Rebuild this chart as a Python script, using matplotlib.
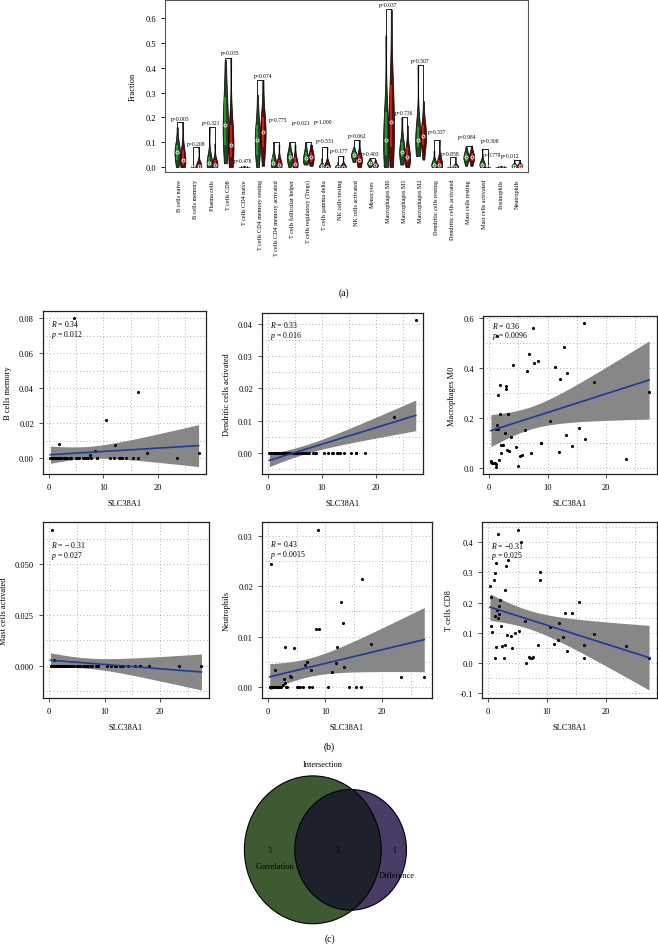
import numpy as np
import matplotlib
matplotlib.use('Agg')
import matplotlib.pyplot as plt
from matplotlib.patches import Circle
from matplotlib.ticker import MultipleLocator, FormatStrFormatter

plt.rcParams['font.family'] = ['Liberation Serif', 'DejaVu Serif']
plt.rcParams['mathtext.fontset'] = 'custom'
plt.rcParams['mathtext.rm'] = 'Liberation Serif'
plt.rcParams['mathtext.it'] = 'Liberation Serif:italic'

# ---------------- data: (a) violin panel ----------------
cell_types = ["B cells naive", "B cells memory", "Plasma cells", "T cells CD8",
              "T cells CD4 naive", "T cells CD4 memory resting",
              "T cells CD4 memory activated", "T cells follicular helper",
              "T cells regulatory (Tregs)", "T cells gamma delta", "NK cells resting",
              "NK cells activated", "Monocytes", "Macrophages M0", "Macrophages M1",
              "Macrophages M2", "Dendritic cells resting", "Dendritic cells activated",
              "Mast cells resting", "Mast cells activated", "Eosinophils", "Neutrophils"]
p_values = [0.003, 0.208, 0.321, 0.035, 0.476, 0.074, 0.775, 0.021, 1.000, 0.531, 0.177,
            0.062, 0.403, 0.037, 0.736, 0.507, 0.337, 0.858, 0.984, 0.308, 0.779, 0.012]
# min, q1, median, q3, max of each group
low_frac = [[0.0, 0.03, 0.06, 0.09, 0.16], [0.0, 0.0, 0.001, 0.003, 0.008],
            [0.0, 0.005, 0.015, 0.04, 0.16], [0.015, 0.09, 0.17, 0.28, 0.43],
            [0.0, 0.0, 0.0, 0.001, 0.003], [0.0, 0.05, 0.11, 0.17, 0.29],
            [0.0, 0.005, 0.015, 0.04, 0.10], [0.0, 0.02, 0.04, 0.06, 0.10],
            [0.01, 0.02, 0.035, 0.06, 0.10], [0.0, 0.0, 0.003, 0.01, 0.035],
            [0.0, 0.0, 0.002, 0.006, 0.02], [0.02, 0.035, 0.048, 0.06, 0.08],
            [0.0, 0.008, 0.015, 0.022, 0.035], [0.0, 0.05, 0.11, 0.22, 0.53],
            [0.01, 0.04, 0.062, 0.10, 0.20], [0.045, 0.08, 0.11, 0.16, 0.41],
            [0.0, 0.003, 0.01, 0.025, 0.065], [0.0, 0.0, 0.0, 0.001, 0.01],
            [0.005, 0.025, 0.039, 0.055, 0.08], [0.0, 0.005, 0.01, 0.02, 0.073],
            [0.0, 0.0, 0.0, 0.001, 0.003], [0.0, 0.002, 0.005, 0.01, 0.03]]
high_frac = [[0.0, 0.01, 0.03, 0.07, 0.18], [0.0, 0.001, 0.004, 0.01, 0.08],
             [0.0, 0.003, 0.008, 0.03, 0.095], [0.0, 0.04, 0.09, 0.17, 0.44],
             [0.0, 0.0, 0.0, 0.001, 0.003], [0.005, 0.08, 0.14, 0.20, 0.35],
             [0.0, 0.003, 0.008, 0.03, 0.09], [0.0, 0.005, 0.012, 0.04, 0.09],
             [0.005, 0.02, 0.04, 0.06, 0.09], [0.0, 0.0, 0.002, 0.008, 0.08],
             [0.0, 0.0, 0.002, 0.006, 0.045], [0.0, 0.015, 0.03, 0.05, 0.11],
             [0.0, 0.003, 0.008, 0.015, 0.03], [0.0, 0.08, 0.18, 0.33, 0.635],
             [0.0, 0.02, 0.04, 0.08, 0.167], [0.03, 0.09, 0.126, 0.17, 0.265],
             [0.0, 0.003, 0.01, 0.03, 0.11], [0.0, 0.0, 0.0, 0.002, 0.04],
             [0.005, 0.025, 0.04, 0.055, 0.086], [0.0, 0.0, 0.0, 0.001, 0.004],
             [0.0, 0.0, 0.0, 0.001, 0.004], [0.0, 0.002, 0.006, 0.012, 0.028]]

# ---------------- data: (b) correlation panels ----------------
slc38a1 = np.array([0.3, 0.4, 0.5, 0.7, 1.0, 1.1, 1.2, 1.2, 1.4, 1.4, 1.5, 1.6, 1.7, 1.8,
                    1.9, 2.0, 2.1, 2.3, 2.7, 2.8, 2.9, 3.0, 3.2, 3.4, 3.8, 4.1, 4.6, 5.0,
                    5.2, 5.6, 6.2, 6.5, 6.9, 7.1, 7.5, 7.7, 8.4, 8.8, 8.9, 10.5, 11.2,
                    11.9, 12.1, 12.8, 13.1, 13.4, 14.2, 15.4, 16.3, 16.4, 18.0, 23.4, 27.4])
b_memory = np.zeros(len(slc38a1))
b_memory[[13, 26, 34, 36, 39, 42, 48, 50, 52]] = [0.0079, 0.080, 0.0015, 0.004, 0.022,
                                                   0.0072, 0.038, 0.003, 0.003]
dc_activated = np.zeros(len(slc38a1))
dc_activated[[51, 52]] = [0.011, 0.041]
macro_m0 = np.array([0.027, 0.024, 0.02, 0.02, 0.017, 0.003, 0.155, 0.013, 0.53, 0.17,
                     0.292, 0.153, 0.031, 0.333, 0.216, 0.06, 0.09, 0.091, 0.14, 0.328,
                     0.315, 0.071, 0.217, 0.068, 0.123, 0.414, 0.084, 0.008, 0.048, 0.052,
                     0.149, 0.389, 0.457, 0.06, 0.56, 0.42, 0.428, 0.099, 0.10, 0.187,
                     0.404, 0.064, 0.357, 0.485, 0.132, 0.379, 0.085, 0.16, 0.58, 0.113,
                     0.345, 0.035, 0.303])
mast_activated = np.zeros(len(slc38a1))
mast_activated[[2, 4]] = [0.067, 0.003]
neutrophils = np.zeros(len(slc38a1))
neutrophils[[2, 6, 18, 19, 20, 21, 24, 25, 26, 31, 32, 34, 36, 37, 38, 40, 41, 42, 43,
             44, 45, 49, 50, 51, 52]] = [0.0243, 0.0033, 0.0005, 0.0017, 0.0009, 0.0079,
                                         0.0023, 0.002, 0.0077, 0.0043, 0.005, 0.0033,
                                         0.0116, 0.0311, 0.0115, 0.0029, 0.0047, 0.0079,
                                         0.0168, 0.0126, 0.004, 0.0214, 0.0086, 0.002, 0.002]
t_cd8 = np.array([0.255, 0.217, 0.121, 0.102, 0.275, 0.154, 0.298, 0.015, 0.053, 0.331,
                  0.175, 0.429, 0.149, 0.19, 0.163, 0.208, 0.123, 0.054, 0.015, 0.243,
                  0.058, 0.32, 0.093, 0.34, 0.089, 0.049, 0.098, 0.441, 0.106, 0.40,
                  0.14, 0.0, 0.019, 0.015, 0.016, 0.018, 0.058, 0.30, 0.275, 0.119,
                  0.063, 0.075, 0.131, 0.087, 0.166, 0.04, 0.166, 0.203, 0.059, 0.017,
                  0.094, 0.057, 0.017])
cor_r = ["0.34", "0.33", "0.36", "\u2212 0.31", "0.43", "\u22120.31"]
cor_p = ["0.012", "0.016", "0.0096", "0.027", "0.0015", "0.025"]

# ---------------- data: (c) venn ----------------
venn_sets = ["Correlation", "Difference"]
venn_only = [3, 1]
venn_both = 3

W, H = 658, 945
fig = plt.figure(figsize=(W / 100, H / 100), dpi=100)


def px_box(x0, y0, x1, y1):
    return [x0 / W, 1 - y1 / H, (x1 - x0) / W, (y1 - y0) / H]


# ---------------- (a) ----------------
ax = fig.add_axes(px_box(165, 1, 528, 173))
pos = np.arange(len(cell_types))
off = 0.17
for data, dx, body_c, box_c in [(low_frac, -off, '#1f4a1f', '#2f9a2f'),
                                 (high_frac, off, '#5e0d0d', '#e01818')]:
    # five-number summaries, centre weighted so the violins taper to the extremes
    samples = [[d[0], d[1], d[1], d[2], d[2], d[2], d[3], d[3], d[4]] for d in data]
    parts = ax.violinplot(samples, positions=pos + dx, widths=0.34, showextrema=False)
    for b in parts['bodies']:
        b.set_facecolor(body_c)
        b.set_edgecolor('black')
        b.set_linewidth(0.5)
        b.set_alpha(1)
    q1 = [d[1] for d in data]
    q3 = [d[3] for d in data]
    med = [d[2] for d in data]
    ax.vlines(pos + dx, q1, q3, color=box_c, lw=1.3, zorder=3)
    ax.plot(pos + dx, med, 'o', ms=2.2, mfc='none', mec='white', mew=0.6, zorder=4)

p_label_y = [0.197, 0.096, 0.18, 0.46, 0.028, 0.37, 0.19, 0.18, 0.185, 0.105, 0.065,
             0.126, 0.056, 0.653, 0.218, 0.43, 0.144, 0.056, 0.124, 0.105, 0.052, 0.045]
p_label_dx = [0, 0, -0.06, 0.12, -0.06, 0.19, 0.12, 0.56, 0.93, 0.06, -0.06, 0.06,
              -0.12, 0, -0.06, 0, 0, -0.12, -0.12, 0.31, -0.56, -0.44]
for i in pos:
    g, r = max(low_frac[i]), max(high_frac[i])
    top = max(g, r)
    ax.plot([i - off, i - off, i + off, i + off], [g, top, top, r], color='black', lw=0.6)
    ax.text(i + p_label_dx[i], p_label_y[i], "p=%.3f" % p_values[i], fontsize=4,
            ha='center', va='center')

ax.set_xlim(-0.93, 21.69)
ax.set_ylim(-0.02, 0.6725)
ax.set_yticks([0, 0.1, 0.2, 0.3, 0.4, 0.5, 0.6])
ax.yaxis.set_major_formatter(FormatStrFormatter('%.1f'))
ax.set_xticks(pos)
ax.set_xticklabels(cell_types, rotation=90, fontsize=4.4)
ax.tick_params(axis='x', length=0, pad=5)
ax.tick_params(axis='y', labelsize=6, length=3, width=0.6)
ax.set_ylabel('Fraction', fontsize=6, labelpad=6)
for s in ax.spines.values():
    s.set_color('#555555')
    s.set_linewidth(0.8)

fig.text(344 / W, 1 - 293 / H, '(a)', fontsize=7, ha='center', va='center')


# ---------------- (b) ----------------
def cor_panel(box, y, ylabel, r_txt, p_txt, major, fmt, text_y, gap):
    ax = fig.add_axes(px_box(*box))
    x = slc38a1
    n = len(x)
    k, b = np.polyfit(x, y, 1)
    xs = np.linspace(x.min(), x.max(), 100)
    fit = k * xs + b
    resid = y - (k * x + b)
    s = np.sqrt(np.sum(resid ** 2) / (n - 2))
    se = s * np.sqrt(1 / n + (xs - x.mean()) ** 2 / np.sum((x - x.mean()) ** 2))
    ax.fill_between(xs, fit - 2.007 * se, fit + 2.007 * se, color='#878787', lw=0, zorder=2)
    ax.plot(xs, fit, color='#1c3c96', lw=1.2, zorder=4)
    ax.scatter(x, y, s=5, color='black', lw=0, zorder=3)

    ax.xaxis.set_major_locator(MultipleLocator(10))
    ax.xaxis.set_minor_locator(MultipleLocator(5))
    ax.yaxis.set_major_locator(MultipleLocator(major))
    ax.yaxis.set_minor_locator(MultipleLocator(major / 2))
    ax.yaxis.set_major_formatter(FormatStrFormatter(fmt))
    ax.grid(which='both', color='#9a9a9a', ls=(0, (1, 3)), lw=0.6, zorder=0)
    ax.set_axisbelow(True)
    ax.tick_params(which='major', labelsize=6, length=3, width=0.6, color='#333333')
    ax.tick_params(which='minor', length=0)
    for sp in ax.spines.values():
        sp.set_linewidth(0.9)
        sp.set_color('#222222')
    ax.set_xlabel('SLC38A1', fontsize=6, labelpad=6)
    ax.set_ylabel(ylabel, fontsize=6, labelpad=5)
    ax.text(0.05, text_y, r'$R$ = ' + r_txt, transform=ax.transAxes, fontsize=5.6,
            va='center')
    ax.text(0.05, text_y - gap, r'$p$ = ' + p_txt, transform=ax.transAxes, fontsize=5.6,
            va='center')
    return ax


cor_panel((43, 312, 206, 475), b_memory, 'B cells memory', cor_r[0], cor_p[0], 0.02, '%.2f', 0.925, 0.065)
cor_panel((262, 314, 423, 475), dc_activated, 'Dendritic cells activated', cor_r[1], cor_p[1], 0.01, '%.2f', 0.93, 0.066)
cor_panel((483, 317, 657, 475), macro_m0, 'Macrophages M0', cor_r[2], cor_p[2], 0.2, '%.1f', 0.945, 0.068)
cor_panel((43, 523, 209, 699), mast_activated, 'Mast cells activated', cor_r[3], cor_p[3], 0.025, '%.3f', 0.875, 0.062)
cor_panel((262, 523, 432, 699), neutrophils, 'Neutrophils', cor_r[4], cor_p[4], 0.01, '%.2f', 0.88, 0.06)
cor_panel((482, 523, 657, 699), t_cd8, 'T cells CD8', cor_r[5], cor_p[5], 0.1, '%.1f', 0.87, 0.06)

fig.text(329 / W, 1 - 747 / H, '(b)', fontsize=7, ha='center', va='center')

# ---------------- (c) venn ----------------
n_a = venn_only[0] + venn_both
n_b = venn_only[1] + venn_both
r_a = np.sqrt(n_a / np.pi)
r_b = np.sqrt(n_b / np.pi)


def lens_area(d):
    c1 = np.clip((d ** 2 + r_a ** 2 - r_b ** 2) / (2 * d * r_a), -1, 1)
    c2 = np.clip((d ** 2 + r_b ** 2 - r_a ** 2) / (2 * d * r_b), -1, 1)
    k = (-d + r_a + r_b) * (d + r_a - r_b) * (d - r_a + r_b) * (d + r_a + r_b)
    return r_a ** 2 * np.arccos(c1) + r_b ** 2 * np.arccos(c2) - 0.5 * np.sqrt(max(k, 0))


lo, hi = abs(r_a - r_b) + 1e-6, r_a + r_b
for _ in range(60):
    mid = (lo + hi) / 2
    if lens_area(mid) > venn_both:
        lo = mid
    else:
        hi = mid
d = (lo + hi) / 2

vax = fig.add_axes(px_box(200, 755, 460, 935))
vax.set_xlim(-2.279, 2.974)
vax.set_ylim(-1.574, 1.791)
vax.axis('off')
green = Circle((0, 0), r_a, facecolor='#3e5a33', edgecolor='none')
purple = Circle((d, 0), r_b, facecolor='#4a3c68', edgecolor='none')
vax.add_patch(green)
vax.add_patch(purple)
inter = Circle((0, 0), r_a, facecolor='#1d212c', edgecolor='none')
vax.add_patch(inter)
inter.set_clip_path(purple)
vax.add_patch(Circle((0, 0), r_a, facecolor='none', edgecolor='black', lw=0.8))
vax.add_patch(Circle((d, 0), r_b, facecolor='none', edgecolor='black', lw=0.8))

vax.text((-r_a + d - r_b) / 2, 0, str(venn_only[0]), fontsize=5.5, ha='center', va='center')
vax.text((d - r_b + r_a) / 2, 0, str(venn_both), fontsize=5.5, ha='center', va='center')
vax.text((r_a + d + r_b) / 2, 0, str(venn_only[1]), fontsize=5.5, ha='center', va='center')
vax.text(-0.76, -0.30, venn_sets[0], fontsize=6, ha='center', va='center')
vax.text(1.70, -0.47, venn_sets[1], fontsize=6, ha='center', va='center')

fig.text(323 / W, 1 - 765 / H, 'Intersection', fontsize=6, ha='center', va='center')
fig.text(330 / W, 1 - 939 / H, '(c)', fontsize=7, ha='center', va='center')

fig.savefig('out.png', dpi=100)
